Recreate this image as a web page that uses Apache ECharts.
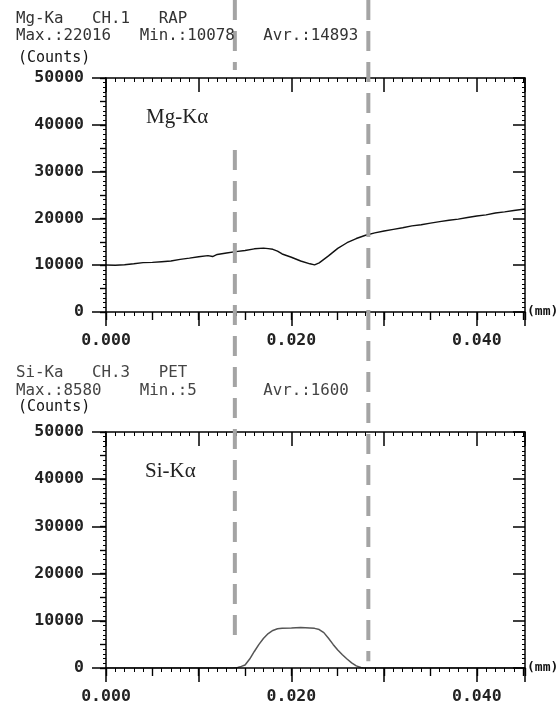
<!DOCTYPE html>
<html>
<head>
<meta charset="utf-8">
<script src="https://cdn.jsdelivr.net/npm/echarts@6/dist/echarts.min.js"></script>
<style>
  html, body { margin: 0; padding: 0; background: #fff; }
  #main { width: 560px; height: 708px; }
</style>
</head>
<body>
<div id="main"></div>
<script>
  // Mg-Ka line profile (mm, counts)
  var mgX = [0.0000, 0.0010, 0.0020, 0.0030, 0.0040, 0.0050, 0.0060, 0.0070, 0.0080, 0.0090,
    0.0100, 0.0110, 0.0115, 0.0120, 0.0130, 0.0140, 0.0150, 0.0160, 0.0170, 0.0175,
    0.0180, 0.0185, 0.0190, 0.0200, 0.0210, 0.0220, 0.0225, 0.0230, 0.0240, 0.0250,
    0.0260, 0.0270, 0.0280, 0.0290, 0.0300, 0.0310, 0.0320, 0.0330, 0.0340, 0.0350,
    0.0360, 0.0370, 0.0380, 0.0390, 0.0400, 0.0410, 0.0420, 0.0430, 0.0440, 0.0452]
  var mgY = [10050, 10000, 10100, 10300, 10550, 10600, 10750, 10900, 11250, 11500,
    11800, 12050, 11850, 12300, 12600, 12900, 13150, 13500, 13650, 13550,
    13400, 13000, 12400, 11700, 10900, 10300, 10080, 10500, 12000, 13600,
    14800, 15700, 16400, 16900, 17300, 17650, 18000, 18400, 18650, 19000,
    19300, 19600, 19850, 20200, 20500, 20750, 21150, 21400, 21700, 22016]
  // Si-Ka line profile (mm, counts)
  var siX = [0.0000, 0.0137, 0.0142, 0.0146, 0.0150, 0.0155, 0.0160, 0.0165, 0.0170, 0.0175,
    0.0180, 0.0185, 0.0190, 0.0200, 0.0210, 0.0220, 0.0225, 0.0230, 0.0235, 0.0240,
    0.0245, 0.0250, 0.0255, 0.0260, 0.0265, 0.0270, 0.0275, 0.0278, 0.0452]
  var siY = [0, 0, 120, 350, 650, 1900, 3500, 5000, 6300, 7300,
    7950, 8300, 8400, 8480, 8580, 8500, 8400, 8150, 7500, 6300,
    5000, 3800, 2800, 1900, 1100, 450, 100, 0, 0]

  var xMax = 0.0452
  var yMax = 50000
  var xLabels = ['0.000', '0.020', '0.040']
  var headTop = ['Mg-Ka   CH.1   RAP', 'Max.:22016   Min.:10078   Avr.:14893']
  var headBottom = ['Si-Ka   CH.3   PET', 'Max.:8580    Min.:5       Avr.:1600']
  var elements = ['Mg-K\u03b1', 'Si-K\u03b1']
  // dashed marker lines: x position (mm) and vertical spans in % of page height
  var markerX = [0.0139, 0.0283]
  var markerSpans = [[[0, 9.9], [21.2, 91.1]], [[0, 93.4]]]

  var mono = '"DejaVu Sans Mono", monospace'
  var grids = [
    { left: 106, right: 35, top: 78, height: 234 },
    { left: 106, right: 35, top: 432, height: 236 }
  ]

  function tickStyle(w) {
    return { color: '#000', width: w }
  }

  function makeX(gi) {
    var base = {
      type: 'value', gridIndex: gi, min: 0, max: xMax, z: 3,
      splitLine: { show: false },
      axisLine: { onZero: false, lineStyle: tickStyle(1.5) }
    }
    return [
      Object.assign({}, base, {
        position: 'bottom', interval: 0.01,
        name: '(mm)', nameLocation: 'end', nameGap: 2,
        nameTextStyle: { fontFamily: mono, fontSize: 13, fontWeight: 'bold', color: '#111', padding: [0, 0, 14, 0] },
        axisTick: { length: 14, lineStyle: tickStyle(1.5) },
        minorTick: { show: true, splitNumber: 10, length: 4, lineStyle: tickStyle(1) },
        axisLabel: {
          margin: 20, fontFamily: mono, fontSize: 16.5, fontWeight: 'bold', color: '#222',
          formatter: function (v) {
            var s = v.toFixed(3)
            return xLabels.indexOf(s) >= 0 ? s : ''
          }
        }
      }),
      Object.assign({}, base, {
        position: 'bottom', interval: 0.005, axisLine: { show: false },
        axisTick: { length: 8, lineStyle: tickStyle(1.2) }, axisLabel: { show: false }
      }),
      Object.assign({}, base, {
        position: 'top', interval: 0.01,
        axisTick: { inside: true, length: 14, lineStyle: tickStyle(1.5) },
        minorTick: { show: true, splitNumber: 10, length: 4, lineStyle: tickStyle(1) },
        axisLabel: { show: false }
      }),
      Object.assign({}, base, {
        position: 'top', interval: 0.005, axisLine: { show: false },
        axisTick: { inside: true, length: 8, lineStyle: tickStyle(1.2) }, axisLabel: { show: false }
      })
    ]
  }

  function makeY(gi) {
    var base = {
      type: 'value', gridIndex: gi, min: 0, max: yMax, z: 3,
      splitLine: { show: false },
      axisLine: { onZero: false, lineStyle: tickStyle(1.5) }
    }
    return [
      Object.assign({}, base, {
        position: 'left', interval: 10000,
        axisTick: { length: 14, lineStyle: tickStyle(1.5) },
        minorTick: { show: true, splitNumber: 10, length: 3, lineStyle: tickStyle(1) },
        axisLabel: {
          margin: 22, fontFamily: mono, fontSize: 16.5, fontWeight: 'bold', color: '#222',
          formatter: function (v) { return String(v) }
        }
      }),
      Object.assign({}, base, {
        position: 'left', interval: 5000, axisLine: { show: false },
        axisTick: { length: 6, lineStyle: tickStyle(1.2) }, axisLabel: { show: false }
      }),
      Object.assign({}, base, {
        position: 'right', interval: 10000,
        axisTick: { inside: true, length: 12, lineStyle: tickStyle(1.5) },
        minorTick: { show: true, splitNumber: 10, length: 3, lineStyle: tickStyle(1) },
        axisLabel: { show: false }
      }),
      Object.assign({}, base, {
        position: 'right', interval: 5000, axisLine: { show: false },
        axisTick: { inside: true, length: 6, lineStyle: tickStyle(1.2) }, axisLabel: { show: false }
      })
    ]
  }

  function pairs(xs, ys) {
    return xs.map(function (x, i) { return [x, ys[i]] })
  }

  // overlay grid for the dashed markers running across both panels
  var overlayGrid = { left: 106, right: 35, top: 0, height: 708 }
  var xAxes = makeX(0).concat(makeX(1), [{ type: 'value', gridIndex: 2, min: 0, max: xMax, show: false }])
  var yAxes = makeY(0).concat(makeY(1), [{ type: 'value', gridIndex: 2, min: 0, max: 100, inverse: true, show: false }])

  var series = [
    {
      type: 'line', xAxisIndex: 0, yAxisIndex: 0, data: pairs(mgX, mgY),
      showSymbol: false, lineStyle: { color: '#111', width: 1.4 }, z: 2
    },
    {
      type: 'line', xAxisIndex: 4, yAxisIndex: 4, data: pairs(siX, siY),
      showSymbol: false, lineStyle: { color: '#555', width: 1.5 }, z: 2
    }
  ]
  markerX.forEach(function (mx, k) {
    markerSpans[k].forEach(function (span) {
      series.push({
        type: 'line', xAxisIndex: 8, yAxisIndex: 8,
        data: [[mx, span[0]], [mx, span[1]]],
        showSymbol: false, silent: true, z: 10,
        lineStyle: { color: '#a4a4a4', width: 4, type: [20, 11] }
      })
    })
  })

  function txt(left, top, text, font, fill) {
    return { type: 'text', left: left, top: top, z: 20, style: { text: text, font: font, fill: fill } }
  }
  var headFont = '15.8px ' + mono
  var graphic = [
    txt(16, 11, headTop[0], headFont, '#333'),
    txt(16, 28, headTop[1], headFont, '#333'),
    txt(18, 51, '(Counts)', '15px ' + mono, '#111'),
    txt(16, 365, headBottom[0], headFont, '#444'),
    txt(16, 383, headBottom[1], headFont, '#444'),
    txt(18, 400, '(Counts)', '15px ' + mono, '#111'),
    txt(146, 107, elements[0], '21px "Liberation Serif", serif', '#222'),
    txt(145, 461, elements[1], '21px "Liberation Serif", serif', '#222')
  ]

  var myChart = echarts.init(document.getElementById('main'))
  myChart.setOption({
    animation: false,
    backgroundColor: '#fff',
    grid: grids.concat([overlayGrid]),
    xAxis: xAxes,
    yAxis: yAxes,
    series: series,
    graphic: graphic
  })
</script>
</body>
</html>
